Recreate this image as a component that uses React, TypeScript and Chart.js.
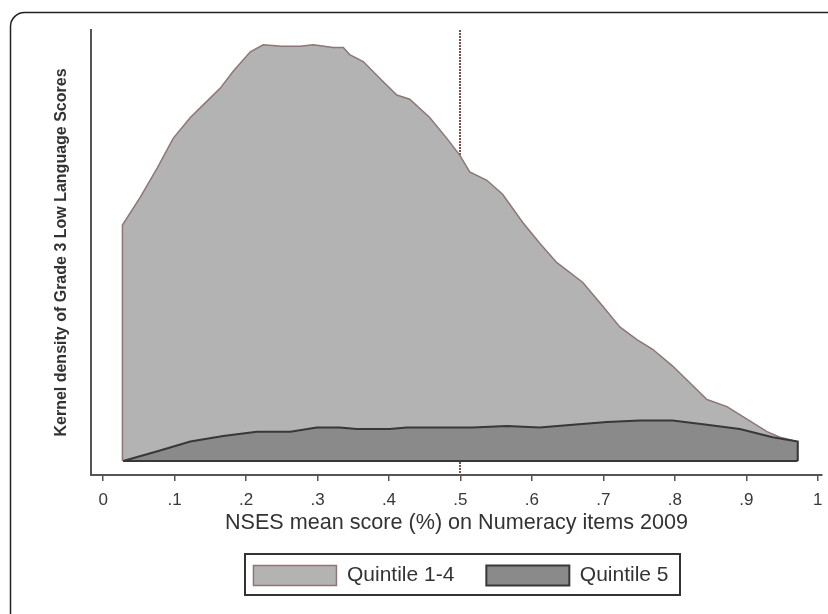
import { useEffect, useRef } from "react";
import { Chart, registerables } from "chart.js";

Chart.register(...registerables);

const FONT = "'Liberation Sans', Arial, Helvetica, sans-serif";

const SERIES_NAMES = ["Quintile 1-4", "Quintile 5"];

const Q14_X = [0.027, 0.027, 0.052, 0.076, 0.098, 0.122, 0.15, 0.164, 0.182, 0.206, 0.224, 0.25, 0.276, 0.294, 0.322, 0.336, 0.345, 0.364, 0.387, 0.411, 0.429, 0.457, 0.481, 0.499, 0.513, 0.537, 0.559, 0.587, 0.611, 0.635, 0.671, 0.699, 0.723, 0.747, 0.769, 0.797, 0.821, 0.845, 0.873, 0.901, 0.929, 0.947, 0.972, 0.972];
const Q14_Y = [0, 1.69, 1.89, 2.1, 2.31, 2.46, 2.6, 2.67, 2.79, 2.93, 2.98, 2.97, 2.97, 2.98, 2.96, 2.96, 2.91, 2.86, 2.74, 2.62, 2.59, 2.46, 2.31, 2.19, 2.07, 2.01, 1.91, 1.71, 1.56, 1.42, 1.28, 1.11, 0.96, 0.87, 0.8, 0.68, 0.56, 0.44, 0.39, 0.3, 0.21, 0.17, 0.14, 0];

const Q5_X = [0.028, 0.076, 0.122, 0.168, 0.215, 0.262, 0.299, 0.331, 0.355, 0.401, 0.425, 0.471, 0.517, 0.565, 0.611, 0.657, 0.705, 0.751, 0.797, 0.845, 0.891, 0.937, 0.972, 0.972];
const Q5_Y = [0, 0.07, 0.14, 0.18, 0.21, 0.21, 0.24, 0.24, 0.23, 0.23, 0.24, 0.24, 0.24, 0.25, 0.24, 0.26, 0.28, 0.29, 0.29, 0.26, 0.23, 0.17, 0.14, 0];

const BASE_X = [0.028, 0.972];
const BASE_Y = [0, 0];

const X_TICKS = [0, 0.1, 0.2, 0.3, 0.4, 0.5, 0.6, 0.7, 0.8, 0.9, 1];
const X_TICK_LABELS = ["0", ".1", ".2", ".3", ".4", ".5", ".6", ".7", ".8", ".9", "1"];

const X_MIN = -0.017;
const X_MAX = 1.006;
const Y_MIN = -0.1;
const Y_MAX = 3.086;
const CUTOFF_X = 0.5;

const X_TITLE = "NSES mean score (%) on Numeracy items 2009";
const Y_TITLE = "Kernel density of Grade 3 Low Language Scores";

const toPoints = (xs: number[], ys: number[]) => xs.map((x, i) => ({ x, y: ys[i] }));

const framePlugin = {
  id: "frame",
  beforeDraw(chart: any) {
    const ctx = chart.ctx;
    ctx.save();
    ctx.strokeStyle = "#222";
    ctx.lineWidth = 1.5;
    ctx.beginPath();
    ctx.moveTo(10.5, 700);
    ctx.lineTo(10.5, 27);
    ctx.arcTo(10.5, 12.5, 25, 12.5, 14);
    ctx.lineTo(900, 12.5);
    ctx.stroke();
    ctx.restore();
  },
};

const cutoffPlugin = {
  id: "cutoff",
  beforeDatasetsDraw(chart: any) {
    const { ctx, chartArea, scales } = chart;
    const x = Math.round(scales.x.getPixelForValue(CUTOFF_X));
    ctx.save();
    ctx.strokeStyle = "#7a4e4c";
    ctx.lineWidth = 2;
    ctx.setLineDash([2, 1]);
    ctx.beginPath();
    ctx.moveTo(x, chartArea.top);
    ctx.lineTo(x, chartArea.bottom);
    ctx.stroke();
    ctx.restore();
  },
};

const legendShiftPlugin = {
  id: "legendShift",
  afterLayout(chart: any) {
    const lg = chart.legend;
    if (lg) {
      lg.left += 50;
      lg.right += 50;
    }
  },
  afterDraw(chart: any) {
    const lg = chart.legend;
    if (!lg || !lg.legendHitBoxes || !lg.legendHitBoxes.length) return;
    const boxes = lg.legendHitBoxes;
    let l = Infinity, r = -Infinity, t = Infinity, b = -Infinity;
    for (const h of boxes) {
      l = Math.min(l, h.left);
      r = Math.max(r, h.left + h.width);
      t = Math.min(t, h.top);
      b = Math.max(b, h.top + h.height);
    }
    const ctx = chart.ctx;
    ctx.save();
    ctx.strokeStyle = "#333";
    ctx.lineWidth = 2;
    ctx.strokeRect(Math.round(l - 8), Math.round(t - 11), Math.round(r - l + 20), Math.round(b - t + 20));
    ctx.restore();
  },
};

export default function App() {
  const ref = useRef<HTMLCanvasElement | null>(null);

  useEffect(() => {
    if (!ref.current) return;
    const chart = new Chart(ref.current, {
      type: "line",
      data: {
        datasets: [
          {
            label: SERIES_NAMES[0],
            data: toPoints(Q14_X, Q14_Y),
            backgroundColor: "#b3b3b3",
            borderColor: "#8c7775",
            borderWidth: 1.5,
            fill: "origin",
            pointRadius: 0,
            tension: 0,
            order: 2,
          },
          {
            label: SERIES_NAMES[1],
            data: toPoints(Q5_X, Q5_Y),
            backgroundColor: "#8a8a8a",
            borderColor: "#383838",
            borderWidth: 2,
            fill: "origin",
            pointRadius: 0,
            tension: 0,
            order: 1,
          },
          {
            label: "baseline",
            data: toPoints(BASE_X, BASE_Y),
            borderColor: "#383838",
            borderWidth: 2,
            fill: false,
            pointRadius: 0,
            order: 0,
          },
        ],
      },
      options: {
        animation: false,
        responsive: false,
        events: [],
        layout: { padding: { top: 30, right: 6, bottom: 18, left: 0 } },
        plugins: {
          legend: {
            position: "bottom",
            labels: {
              boxWidth: 83,
              boxHeight: 20,
              padding: 32,
              color: "#333",
              font: { size: 21, family: FONT },
              filter: (item: any) => item.datasetIndex < 2,
              sort: (a: any, b: any) => a.datasetIndex - b.datasetIndex,
            },
          },
          tooltip: { enabled: false },
        },
        scales: {
          x: {
            type: "linear",
            min: X_MIN,
            max: X_MAX,
            afterFit: (s: any) => {
              s.height = 58;
              s.paddingLeft = 0;
              s.paddingRight = 0;
            },
            afterBuildTicks: (s: any) => {
              s.ticks = X_TICKS.map((v) => ({ value: v }));
            },
            ticks: {
              callback: (_v: any, i: number) => X_TICK_LABELS[i],
              autoSkip: false,
              maxRotation: 0,
              color: "#383838",
              padding: 9,
              font: { size: 17, family: FONT },
            },
            grid: {
              drawOnChartArea: false,
              drawTicks: true,
              tickLength: 6,
              color: "#555",
              lineWidth: 1.5,
            },
            border: { display: true, color: "#555", width: 2 },
            title: {
              display: true,
              text: X_TITLE,
              color: "#333",
              padding: { top: 0, bottom: -3 },
              font: { size: 21.6, family: FONT },
            },
          },
          y: {
            type: "linear",
            min: Y_MIN,
            max: Y_MAX,
            afterFit: (s: any) => {
              s.width = 91;
              s.paddingTop = 0;
              s.paddingBottom = 0;
            },
            ticks: { display: false },
            grid: { display: false },
            border: { display: true, color: "#555", width: 2 },
            title: {
              display: true,
              text: Y_TITLE,
              color: "#333",
              padding: { top: 52, bottom: 0 },
              font: { size: 16, weight: "bold", family: FONT },
            },
          },
        },
      } as any,
      plugins: [framePlugin, cutoffPlugin, legendShiftPlugin],
    });
    return () => chart.destroy();
  }, []);

  return (
    <div style={{ position: "absolute", left: 0, top: 0, width: 828, height: 614, background: "#fff" }}>
      <canvas ref={ref} width={828} height={614} style={{ display: "block" }} />
    </div>
  );
}
